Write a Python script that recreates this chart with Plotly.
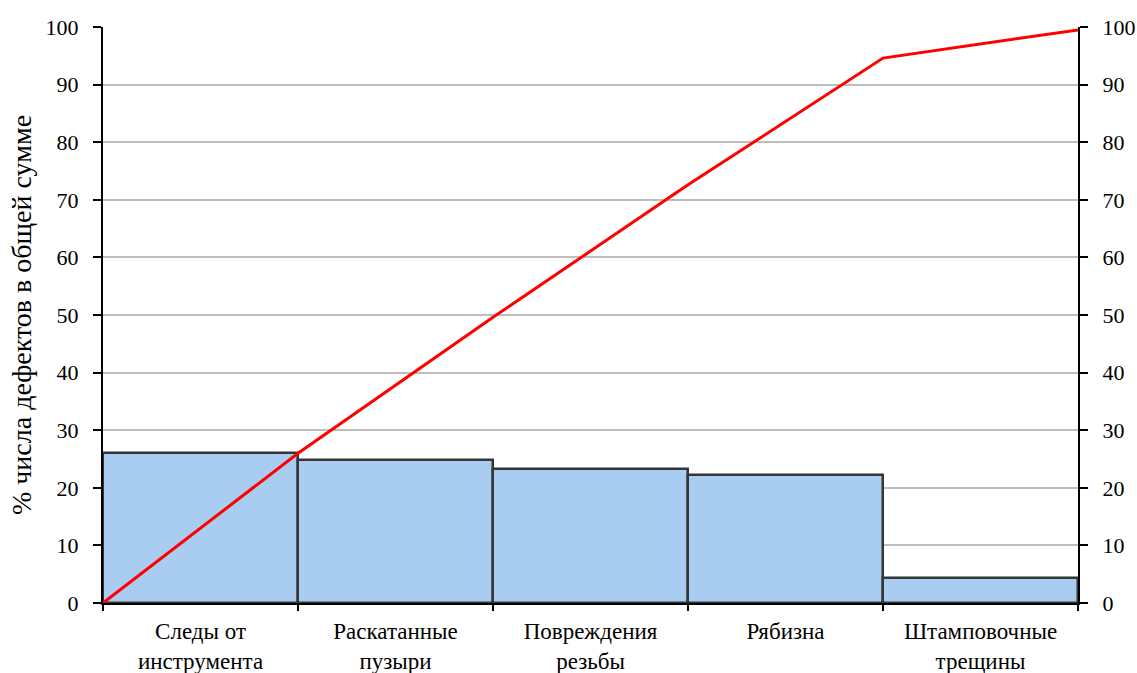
import plotly.graph_objects as go

categories = ["Следы от<br>инструмента", "Раскатанные<br>пузыри", "Повреждения<br>резьбы", "Рябизна", "Штамповочные<br>трещины"]
bar_values = [26.0, 24.8, 23.2, 22.3, 4.4]
cum_values = [0, 26.0, 49.6, 72.6, 94.6, 99.5]
y_ticks = list(range(0, 101, 10))

FONT = "'Times New Roman', 'Liberation Serif', 'DejaVu Serif', serif"

bar_x = [i + 0.5 for i in range(len(categories))]
line_x = list(range(len(cum_values)))

fig = go.Figure()
fig.add_trace(go.Bar(
    x=bar_x, y=bar_values, width=1,
    marker=dict(color="#a9cdf1", line=dict(color="#353535", width=2.5)),
    showlegend=False, hoverinfo="y",
))
fig.add_trace(go.Scatter(
    x=line_x, y=cum_values, yaxis="y2", mode="lines",
    line=dict(color="#ff0000", width=3), showlegend=False, cliponaxis=False,
))

fig.update_layout(
    width=1137, height=673,
    margin=dict(l=103, r=59, t=27, b=70),
    paper_bgcolor="white", plot_bgcolor="white",
    font=dict(family=FONT, color="black", size=22),
    bargap=0,
    xaxis=dict(
        range=[0, 5], tickmode="array", tickvals=bar_x, ticktext=categories,
        ticks="", showline=True, linecolor="black", linewidth=2,
        showgrid=False, zeroline=False, tickfont=dict(family=FONT, size=23),
        ticklabelstandoff=6, automargin=False,
        minor=dict(ticks="outside", ticklen=6, tickcolor="black", tickwidth=2,
                   tick0=0, dtick=1, showgrid=False),
    ),
    yaxis=dict(
        range=[0, 100], tickmode="array", tickvals=y_ticks,
        ticks="outside", ticklen=8, tickwidth=2, tickcolor="black",
        showline=True, linecolor="black", linewidth=2,
        showgrid=True, gridcolor="#bdbdbd", gridwidth=1.5, zeroline=False,
        tickfont=dict(family=FONT, size=22), ticklabelstandoff=10, automargin=False,
        title=dict(text="% числа дефектов в общей сумме", font=dict(family=FONT, size=28), standoff=6),
    ),
    yaxis2=dict(
        range=[0, 100], tickmode="array", tickvals=y_ticks, overlaying="y", side="right",
        ticks="outside", ticklen=8, tickwidth=2, tickcolor="black",
        showline=True, linecolor="black", linewidth=2, automargin=False,
        showgrid=False, zeroline=False, tickfont=dict(family=FONT, size=22), ticklabelstandoff=10,
    ),
)

fig.write_html("out.html")
